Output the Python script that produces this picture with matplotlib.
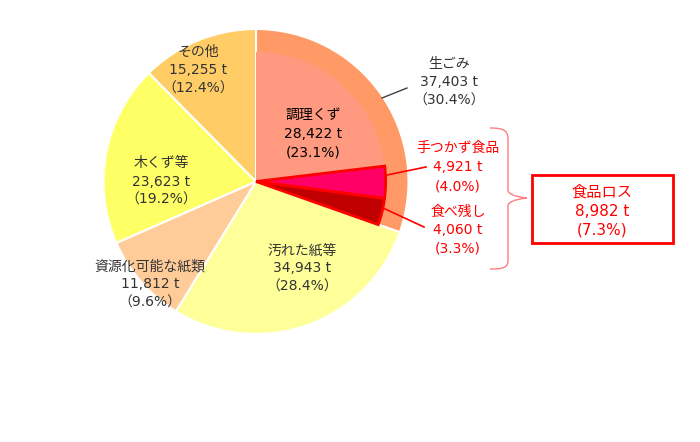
import matplotlib
matplotlib.use('Agg')
import matplotlib.pyplot as plt
from matplotlib.patches import Rectangle, PathPatch
from matplotlib.path import Path

# Latin digits in DejaVu (wider, like the original), Japanese from Noto CJK
plt.rcParams['font.family'] = ['DejaVu Sans', 'Noto Sans CJK JP']

# outer ring: waste categories (t), clockwise from top
categories = ['生ごみ', '汚れた紙等', '資源化可能な紙類', '木くず等', 'その他']
amounts = [37403, 34943, 11812, 23623, 15255]
pcts = ['30.4', '28.4', '9.6', '19.2', '12.4']
colors = ['#FF9966', '#FFFF99', '#FFCC99', '#FFFF66', '#FFCC66']

# breakdown of 生ごみ
sub_categories = ['調理くず', '手つかず食品', '食べ残し']
sub_amounts = [28422, 4921, 4060]
sub_pcts = ['23.1', '4.0', '3.3']
sub_colors = ['#FF9980', '#FF0066', '#C00000']
sub_edges = ['none', '#FF0000', '#FF0000']

loss_amount = 8982
loss_pct = '7.3'

W, H = 700, 442
fig = plt.figure(figsize=(W / 100, H / 100), dpi=100)
ax = fig.add_axes([0, 0, 1, 1])

cx, cy, r = 256, 181.5, 152.5

# y axis runs downward (pixel coords), so counterclock=True draws clockwise
wedges, _ = ax.pie(amounts, colors=colors, startangle=-90, counterclock=True,
                   center=(cx, cy), radius=r,
                   wedgeprops=dict(edgecolor='white', linewidth=1.5))

rest = sum(amounts) - sum(sub_amounts)
inner, _ = ax.pie(sub_amounts + [rest], startangle=-90, counterclock=True,
                  center=(cx, cy), radius=r * 0.85,
                  colors=sub_colors + ['none'])
for w, ec in zip(inner[:3], sub_edges):
    w.set_edgecolor(ec)
    w.set_linewidth(2 if ec != 'none' else 0)
inner[3].set_visible(False)

ax.set_xlim(0, W)
ax.set_ylim(H, 0)
ax.set_aspect('auto')
ax.axis('off')


def label(x, y, lines, color='#333333', size=10, gap=18.5, weight='normal'):
    for i, s in enumerate(lines):
        ax.text(x, y + i * gap, s, ha='center', va='center', color=color,
                fontsize=size, fontweight=weight)


def fmt(v):
    return f'{v:,} t'


# outer labels
label(449, 64, [categories[0], fmt(amounts[0]), f'（{pcts[0]}%）'])
label(302, 250, [categories[1], fmt(amounts[1]), f'（{pcts[1]}%）'])
label(150, 266, [categories[2], fmt(amounts[2]), f'（{pcts[2]}%）'])
label(161, 163, [categories[3], fmt(amounts[3]), f'（{pcts[3]}%）'])
label(198, 52, [categories[4], fmt(amounts[4]), f'（{pcts[4]}%）'])

# sub labels
label(313, 115, [sub_categories[0], fmt(sub_amounts[0]), f'({sub_pcts[0]}%)'],
      color='black', gap=19)
label(458, 148, [sub_categories[1], fmt(sub_amounts[1]), f'({sub_pcts[1]}%)'],
      color='#FF0000', gap=19)
label(458, 212, [sub_categories[2], fmt(sub_amounts[2]), f'({sub_pcts[2]}%)'],
      color='#FF0000', gap=18)

# leader lines
ax.plot([382, 407], [98, 88], color='#404040', lw=1)
ax.plot([387, 426], [175, 167], color='#FF0000', lw=1.2)
ax.plot([383, 424], [208, 227], color='#FF0000', lw=1.2)

# brace
verts = [(490, 128), (505, 128), (508, 131), (508, 140),
         (508, 190), (508, 196), (527, 198),
         (508, 200), (508, 206), (508, 212),
         (508, 260), (508, 267), (505, 269), (490, 269)]
codes = [Path.MOVETO, Path.CURVE4, Path.CURVE4, Path.CURVE4,
         Path.LINETO, Path.CURVE3, Path.CURVE3,
         Path.CURVE3, Path.CURVE3, Path.LINETO,
         Path.LINETO, Path.CURVE4, Path.CURVE4, Path.CURVE4]
ax.add_patch(PathPatch(Path(verts, codes), fill=False, edgecolor='#FF7C80', lw=1))

# food loss box
ax.add_patch(Rectangle((532, 175), 141, 68, facecolor='white',
                       edgecolor='#FF0000', lw=2))
label(602, 192, ['食品ロス', fmt(loss_amount), f'({loss_pct}%)'],
      color='#FF0000', size=11, gap=19)

fig.savefig('out.png', dpi=100)
